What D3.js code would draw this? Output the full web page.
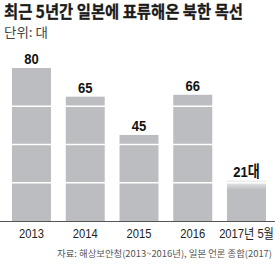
<!DOCTYPE html>
<html><head><meta charset="utf-8">
<script src="https://cdn.jsdelivr.net/npm/d3@7/dist/d3.min.js"></script>
<style>
html,body{margin:0;padding:0;background:#fff;}
svg{display:block;}
</style></head>
<body>
<script>
const categories = ["2013", "2014", "2015", "2016", "2017년 5월"];
const values = [80, 65, 45, 66, 21];
const valueLabels = ["80", "65", "45", "66", "21대"];
const gridValues = [20, 40, 60];
const title = "최근 5년간 일본에 표류해온 북한 목선";
const unitText = "단위: 대";
const sourceText = "자료: 해상보안청(2013~2016년), 일본 언론 종합(2017)";

const W = 280, H = 269;
const svg = d3.select("body").append("svg").attr("width", W).attr("height", H);
const defs = svg.append("defs");
const grad = defs.append("linearGradient").attr("id","fade").attr("x1",0).attr("x2",0).attr("y1",0).attr("y2",1);
grad.append("stop").attr("offset","0%").attr("stop-color","#fff").attr("stop-opacity",0.75);
grad.append("stop").attr("offset","100%").attr("stop-color","#fff").attr("stop-opacity",0);

const latin = "'Liberation Sans','Noto Sans CJK KR',sans-serif";
const kr = "'Noto Sans CJK KR','Noto Sans',sans-serif";

function condense(sel, f) {
  sel.each(function() {
    const w = this.getComputedTextLength();
    d3.select(this).attr("textLength", w * f).attr("lengthAdjust", "spacingAndGlyphs");
  });
}

const x = d3.scaleBand().domain(categories).range([12, 266]).paddingInner(0.275).paddingOuter(0);
const y = d3.scaleLinear().domain([0, 80]).range([221, 68]);

// title
svg.append("text").attr("x", 4).attr("y", 18).text(title)
  .attr("font-family", kr).attr("font-weight", 700).attr("font-size", 16.5)
  .attr("fill", "#1a1a1a").attr("stroke", "#1a1a1a").attr("stroke-width", 0.3)
  .attr("textLength", 239).attr("lengthAdjust", "spacingAndGlyphs");
svg.append("text").attr("x", 4).attr("y", 37).text(unitText)
  .attr("font-family", kr).attr("font-size", 13).attr("fill", "#444")
  .attr("textLength", 44).attr("lengthAdjust", "spacingAndGlyphs");

// bars
svg.selectAll("rect.bar").data(values).join("rect").attr("class","bar")
  .attr("x", (d,i) => x(categories[i])).attr("width", x.bandwidth())
  .attr("y", d => y(d)).attr("height", d => y(0) - y(d))
  .attr("fill", "#bcbdc0");

const li = values.length - 1;
svg.append("rect").attr("x", x(categories[li])).attr("width", x.bandwidth())
  .attr("y", y(values[li])).attr("height", 9).attr("fill", "url(#fade)");

svg.selectAll("line.grid").data(gridValues).join("line").attr("class","grid")
  .attr("x1", 0).attr("x2", W).attr("y1", d => y(d)).attr("y2", d => y(d))
  .attr("stroke", "#fff").attr("stroke-width", 1.3);

svg.selectAll("text.val").data(values).join("text").attr("class","val")
  .attr("x", (d,i) => x(categories[i]) + x.bandwidth()/2)
  .attr("y", d => y(d) - 4)
  .attr("text-anchor", "middle")
  .attr("font-family", latin)
  .attr("font-weight", 700).attr("font-size", 15.5).attr("fill", "#111")
  .text((d,i) => valueLabels[i])
  .call(condense, 0.84);

const axis = svg.append("g").attr("transform", `translate(0,${y(0)})`)
  .call(d3.axisBottom(x).tickSize(0).tickPadding(8));
axis.select(".domain").attr("d", `M0,0.5H275`).attr("stroke", "#555").attr("stroke-width", 1);
axis.selectAll("text").attr("font-family", latin).attr("font-size", 13)
  .attr("fill", "#222").attr("dy", "0.71em")
  .call(condense, 0.86);

svg.append("text").attr("x", 272).attr("y", 257).attr("text-anchor", "end").text(sourceText)
  .attr("font-family", kr).attr("font-size", 9).attr("fill", "#555")
  .attr("textLength", 215).attr("lengthAdjust", "spacingAndGlyphs");
</script>
</body></html>
